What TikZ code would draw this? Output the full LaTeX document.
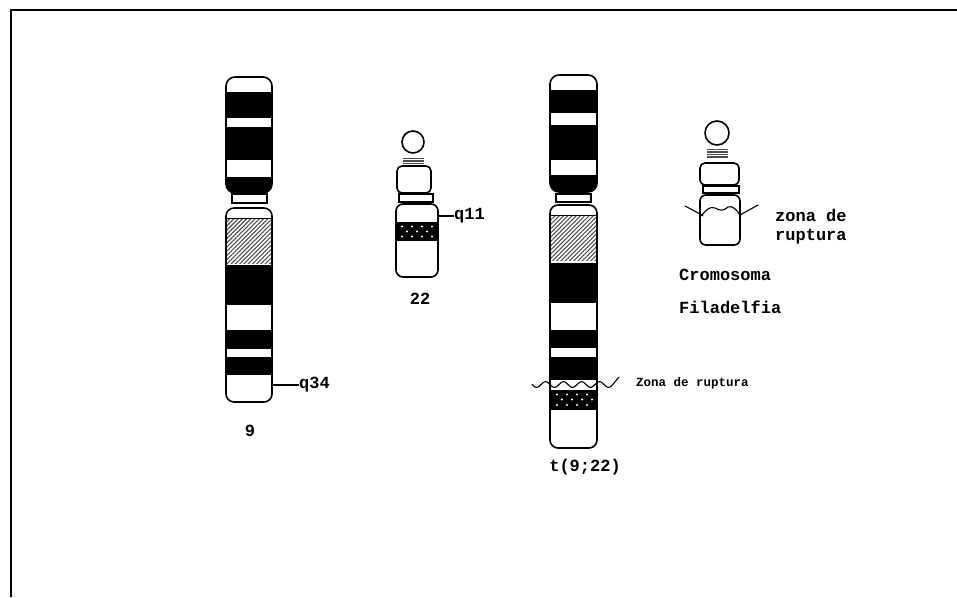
\documentclass[tikz,border=0pt]{standalone}
\usepackage{fontspec}
\newfontfamily\dotfont{Liberation Mono}
\usetikzlibrary{patterns.meta}

% a chromosome arm: clip to the rounded outline, paint the bands, then stroke the outline
\newcommand\chromarm[6]{%
  \begin{scope}
    \clip[rounded corners=#5] (#1,#2) rectangle (#3,#4);
    #6
  \end{scope}
  \draw[outline, rounded corners=#5] (#1,#2) rectangle (#3,#4);
}

\begin{document}
\begin{tikzpicture}[x=1pt, y=-1pt,
  outline/.style={line width=1.6pt, line join=round},
  centro/.style={line width=1.8pt, fill=white},
  hatchband/.style={pattern={Lines[angle=45, distance=3pt, line width=1.1pt]}, pattern color=black!70},
  stalk/.style={line width=1.8pt, draw=black!70},
  cut/.style={line width=1.1pt, line cap=round, line join=round},
  lbl/.style={font=\dotfont\bfseries\fontsize{17}{20}\selectfont, inner sep=0pt},
  smalllbl/.style={font=\dotfont\bfseries\fontsize{12.5}{15}\selectfont, inner sep=0pt},
  tick/.style={line width=1.1pt}]

\useasboundingbox (0,0) rectangle (957,597);
\fill[white] (0,0) rectangle (957,597);

% frame
\draw[line width=1.8pt] (11,597) -- (11,10) -- (957,10);

% ---------- chromosome 9 ----------
\chromarm{226}{77}{272}{193}{9pt}{%
  \fill (200,92) rectangle (300,118);
  \fill (200,127) rectangle (300,160);
  \fill (200,177) rectangle (300,200);}
\draw[centro] (232,194) rectangle (267,203);
\chromarm{226}{208}{272}{402}{8pt}{%
  \fill[hatchband] (200,218) rectangle (300,263);
  \draw[line width=1pt] (200,218) -- (300,218);
  \fill (200,265) rectangle (300,305);
  \fill (200,330) rectangle (300,349);
  \fill (200,357) rectangle (300,375);}
\coordinate (c9) at (272,385);
\node[lbl, anchor=west] (q34) at (299,385) {q34};
\draw[tick] (c9) -- (q34.west);
\node[lbl] (n9) at (250,431) {9};

% ---------- chromosome 22 ----------
\draw[outline] (413,142) circle (11);
\foreach \y in {158.5,161,163.5} \draw[stalk] (403,\y) -- (424,\y);
\draw[outline, rounded corners=5pt] (397,166) rectangle (431,193);
\draw[centro] (399,194) rectangle (433,202);
\chromarm{396}{204}{438}{277}{7pt}{%
  \fill (380,222) rectangle (450,241);
  \foreach \x in {402,412,422,432} {\fill[white] (\x,226.5) circle (1.2); \fill[white] (\x,236.5) circle (1.2);}
  \foreach \x in {407,417,427} \fill[white] (\x,231.5) circle (1.2);}
\coordinate (c22) at (438,216);
\node[lbl, anchor=west] (q11) at (454,216) {q11};
\draw[tick] (c22) -- (q11.west);
\node[lbl] (n22) at (420,299) {22};

% ---------- t(9;22) ----------
\chromarm{550}{75}{597}{192}{9pt}{%
  \fill (520,90) rectangle (620,113);
  \fill (520,125) rectangle (620,160);
  \fill (520,175) rectangle (620,200);}
\draw[centro] (556,194) rectangle (591,202);
\chromarm{550}{205}{597}{448}{8pt}{%
  \fill[hatchband] (520,215) rectangle (620,260);
  \draw[line width=1pt] (520,215) -- (620,215);
  \fill (520,263) rectangle (620,303);
  \fill (520,330) rectangle (620,348);
  \fill (520,357) rectangle (620,380);
  \fill (520,390) rectangle (620,410);
  \foreach \x in {557,567,577,587} {\fill[white] (\x,394.5) circle (1.2); \fill[white] (\x,405) circle (1.2);}
  \foreach \x in {562,572,582,592} \fill[white] (\x,399.5) circle (1.2);}
\draw[cut] plot[domain=532:612, samples=81, smooth] (\x, {384.5 + 2.8*sin((\x-532)*20)}) -- (619,377);
\node[smalllbl, anchor=west] (zona1) at (636,383) {Zona de ruptura};
\node[lbl] (ntr) at (585,467) {t(9;22)};

% ---------- Philadelphia chromosome ----------
\draw[outline] (717,133) circle (12);
\foreach \y in {149.5,152,154.5,157} \draw[stalk] (707,\y) -- (728,\y);
\draw[outline, rounded corners=5pt] (700,163) rectangle (739,185);
\draw[centro] (703,186) rectangle (739,193);
\draw[outline, rounded corners=6pt] (700,195) rectangle (740,245);
\draw[cut] (685,206) -- (702,215)
  .. controls (706,210) and (710,206) .. (715,208)
  .. controls (720,211) and (724,211) .. (728,207)
  .. controls (732,205) and (737,210) .. (740,215) -- (758,205);
\fill (702,215) circle (1.5);
\fill (740,215) circle (1.5);
\node[lbl, anchor=west] (zona2a) at (775,215) {zona de};
\node[lbl, anchor=west] (zona2b) at (775,237) {ruptura};
\node[lbl, anchor=west] (crom) at (679,275) {Cromosoma};
\node[lbl, anchor=west] (fila) at (679,307) {Filadelfia};

\end{tikzpicture}
\end{document}
